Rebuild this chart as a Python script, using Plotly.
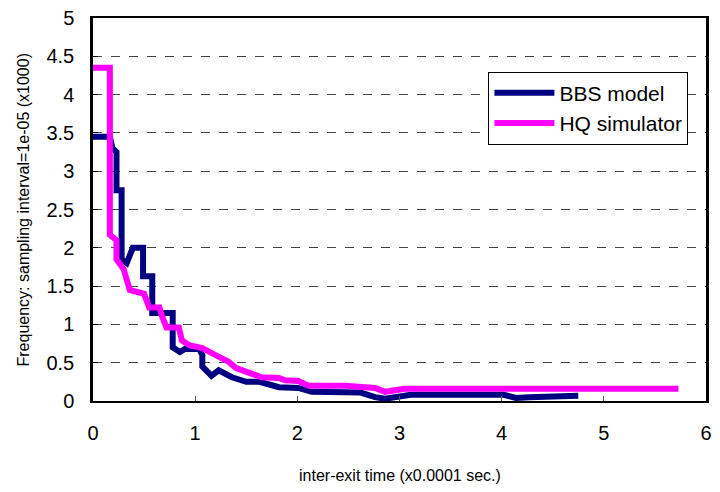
import plotly.graph_objects as go

bbs_x = [0.0, 0.165, 0.19, 0.23, 0.23, 0.28, 0.28, 0.33, 0.39, 0.49, 0.49, 0.58, 0.58, 0.78, 0.78, 0.85, 0.9, 1.04, 1.07, 1.07,
         1.16, 1.23, 1.36, 1.5, 1.63, 1.79, 1.82, 2.01, 2.14, 2.62, 2.76, 2.86, 2.98, 3.11, 4.02, 4.14, 4.27, 4.75]
bbs_y = [3.45, 3.45, 3.3, 3.25, 2.75, 2.75, 1.85, 1.8, 2.0, 2.0, 1.63, 1.63, 1.15, 1.15, 0.7, 0.64, 0.68, 0.68, 0.6, 0.45,
         0.33, 0.4, 0.31, 0.25, 0.25, 0.2, 0.18, 0.17, 0.12, 0.11, 0.05, 0.03, 0.05, 0.08, 0.08, 0.04, 0.05, 0.07]

hq_x = [0.0, 0.165, 0.165, 0.23, 0.23, 0.3, 0.36, 0.5, 0.55, 0.65, 0.68, 0.72, 0.84, 0.87, 0.94, 1.07, 1.2, 1.33, 1.4, 1.52,
        1.65, 1.82, 1.88, 2.01, 2.11, 2.47, 2.76, 2.86, 3.05, 3.18, 5.73]
hq_y = [4.35, 4.35, 2.17, 2.1, 1.85, 1.72, 1.45, 1.4, 1.22, 1.22, 1.09, 0.96, 0.96, 0.79, 0.73, 0.69, 0.6, 0.51, 0.43, 0.38,
        0.31, 0.3, 0.27, 0.26, 0.2, 0.2, 0.17, 0.12, 0.16, 0.16, 0.16]

x_title = "inter-exit time (x0.0001 sec.)"
y_title = "Frequency: sampling interval=1e-05 (x1000)"

fig = go.Figure()
fig.add_trace(go.Scatter(x=bbs_x, y=bbs_y, mode="lines", name="BBS model",
                         line=dict(color="#000080", width=6)))
fig.add_trace(go.Scatter(x=hq_x, y=hq_y, mode="lines", name="HQ simulator",
                         line=dict(color="#FF00FF", width=6)))

# page body has an 8px margin; size the figure so the page needs no scrollbars
fig.update_layout(
    width=704, height=476,
    margin=dict(l=85, r=6, t=10, b=83, autoexpand=False),
    paper_bgcolor="white", plot_bgcolor="white",
    font=dict(family="Arial, Liberation Sans, sans-serif", color="black"),
    showlegend=True,
    legend=dict(x=0.645, y=0.86, xanchor="left", yanchor="top",
                bordercolor="black", borderwidth=1, bgcolor="white",
                font=dict(size=21), itemwidth=60, tracegroupgap=0),
    annotations=[
        dict(text=x_title, xref="paper", yref="paper", x=0.5, y=0, xanchor="center", yanchor="middle",
             yshift=-74, showarrow=False, font=dict(size=16)),
        dict(text=y_title, xref="paper", yref="paper", x=0, y=0.5, xanchor="center", yanchor="middle",
             xshift=-70, textangle=-90, showarrow=False, font=dict(size=16)),
    ],
)
fig.update_xaxes(range=[0, 6], dtick=1, showgrid=False, zeroline=False, automargin=False,
                 showline=True, linecolor="black", linewidth=2, mirror=True,
                 ticks="inside", ticklen=5, tickcolor="#555", ticklabeloverflow="allow",
                 tickfont=dict(size=20), ticklabelstandoff=13)
fig.update_yaxes(range=[0, 5], dtick=0.5, showgrid=True, gridcolor="#444", griddash="dash", gridwidth=1,
                 zeroline=False, showline=True, linecolor="black", linewidth=2.5, mirror=True, automargin=False,
                 ticks="inside", ticklen=5, tickcolor="black", ticklabeloverflow="allow",
                 tickfont=dict(size=20), ticklabelstandoff=12)

fig.write_html("out.html")
